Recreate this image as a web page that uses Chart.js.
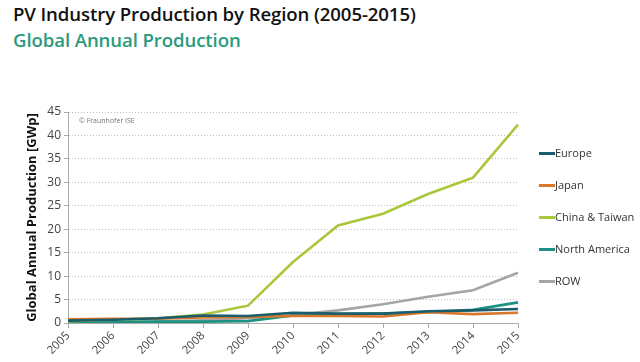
<!DOCTYPE html>
<html lang="en">
<head>
<meta charset="UTF-8" />
<title>PV Industry Production by Region</title>
<script src="https://cdn.jsdelivr.net/npm/chart.js"></script>
<style>
    body { margin: 0; width: 640px; height: 362px; background: #fff; font-family: 'Open Sans', sans-serif; overflow: hidden; position: relative; }
    h1 { position: absolute; left: 13px; top: 1px; margin: 0; font-size: 18.6px; font-weight: 600; color: #111; letter-spacing: -0.1px; }
    h2 { position: absolute; left: 13px; top: 27px; margin: 0; font-size: 18.6px; font-weight: 600; color: #2a9a7e; letter-spacing: -0.1px; }
    #wrap { position: absolute; left: 0; top: 0; width: 640px; height: 362px; }
    #copy { position: absolute; left: 79px; top: 116px; font-size: 7px; color: #777; }
    #legend { position: absolute; left: 539px; top: 145px; list-style: none; margin: 0; padding: 0; }
    #legend li { height: 32px; font-size: 11px; color: #333; display: flex; align-items: flex-start; }
    #legend span.sw { display: inline-block; width: 16px; height: 3px; margin-top: 7px; }
</style>
</head>
<body>
<h1>PV Industry Production by Region (2005-2015)</h1>
<h2>Global Annual Production</h2>
<div id="wrap"><canvas id="c"></canvas></div>
<div id="copy">© Fraunhofer ISE</div>
<ul id="legend"></ul>
<script>
    const years = ['2005', '2006', '2007', '2008', '2009', '2010', '2011', '2012', '2013', '2014', '2015'];
    const seriesNames = ['Europe', 'Japan', 'China & Taiwan', 'North America', 'ROW'];
    const europe = [0.5, 0.7, 1.0, 1.6, 1.5, 2.2, 2.0, 2.0, 2.5, 2.7, 3.0];
    const japan = [0.8, 0.9, 0.9, 1.2, 1.3, 1.5, 1.5, 1.4, 2.3, 1.9, 2.2];
    const china = [0.4, 0.7, 1.0, 1.8, 3.7, 13.0, 20.8, 23.3, 27.5, 31.0, 42.3];
    const northAmerica = [0.2, 0.2, 0.3, 0.3, 0.4, 1.6, 1.9, 2.0, 2.3, 2.8, 4.4];
    const row = [0.1, 0.2, 0.3, 0.6, 1.0, 1.7, 2.7, 4.0, 5.6, 7.0, 10.7];
    const yTicks = [0, 5, 10, 15, 20, 25, 30, 35, 40, 45];
    const colors = ['#1b5d6c', '#d9782c', '#a9c73a', '#1d9283', '#a5a5a5'];

    const values = [europe, japan, china, northAmerica, row];

    new Chart(document.getElementById('c').getContext('2d'), {
        type: 'line',
        data: {
            labels: years,
            datasets: seriesNames.map((name, i) => ({
                label: name,
                data: values[i],
                borderColor: colors[i],
                backgroundColor: colors[i],
                borderWidth: 2.6,
                pointRadius: 0,
                tension: 0
            }))
        },
        options: {
            responsive: true,
            maintainAspectRatio: false,
            animation: false,
            layout: { padding: { left: 20, top: 112, right: 122, bottom: 0 } },
            scales: {
                x: {
                    offset: false,
                    grid: { drawOnChartArea: false, drawTicks: true, tickLength: 5, color: '#aaa' },
                    border: { color: '#aaa' },
                    ticks: { color: '#444', font: { size: 11.5, family: 'Open Sans' }, maxRotation: 45, minRotation: 45, padding: 1 },
                    afterFit: s => { s.height = 39; }
                },
                y: {
                    min: 0,
                    max: 45,
                    afterBuildTicks: s => { s.ticks = yTicks.map(v => ({ value: v })); },
                    grid: { color: '#bdbdbd', tickLength: 4, tickBorderDash: [], tickColor: '#aaa' },
                    border: { display: true, color: '#aaa', dash: [1, 2] },
                    ticks: { color: '#444', font: { size: 12, family: 'Open Sans' }, padding: 3 },
                    title: { display: true, text: 'Global Annual Production [GWp]', color: '#111', font: { size: 13, weight: 'bold', family: 'Open Sans' }, padding: 4 },
                    afterFit: s => { s.width = 48; }
                }
            },
            plugins: { legend: { display: false }, tooltip: { enabled: false } }
        }
    });

    const legend = document.getElementById('legend');
    seriesNames.forEach((name, i) => {
        const li = document.createElement('li');
        li.innerHTML = `<span class="sw" style="background:${colors[i]}"></span>${name}`;
        legend.appendChild(li);
    });
</script>
</body>
</html>
